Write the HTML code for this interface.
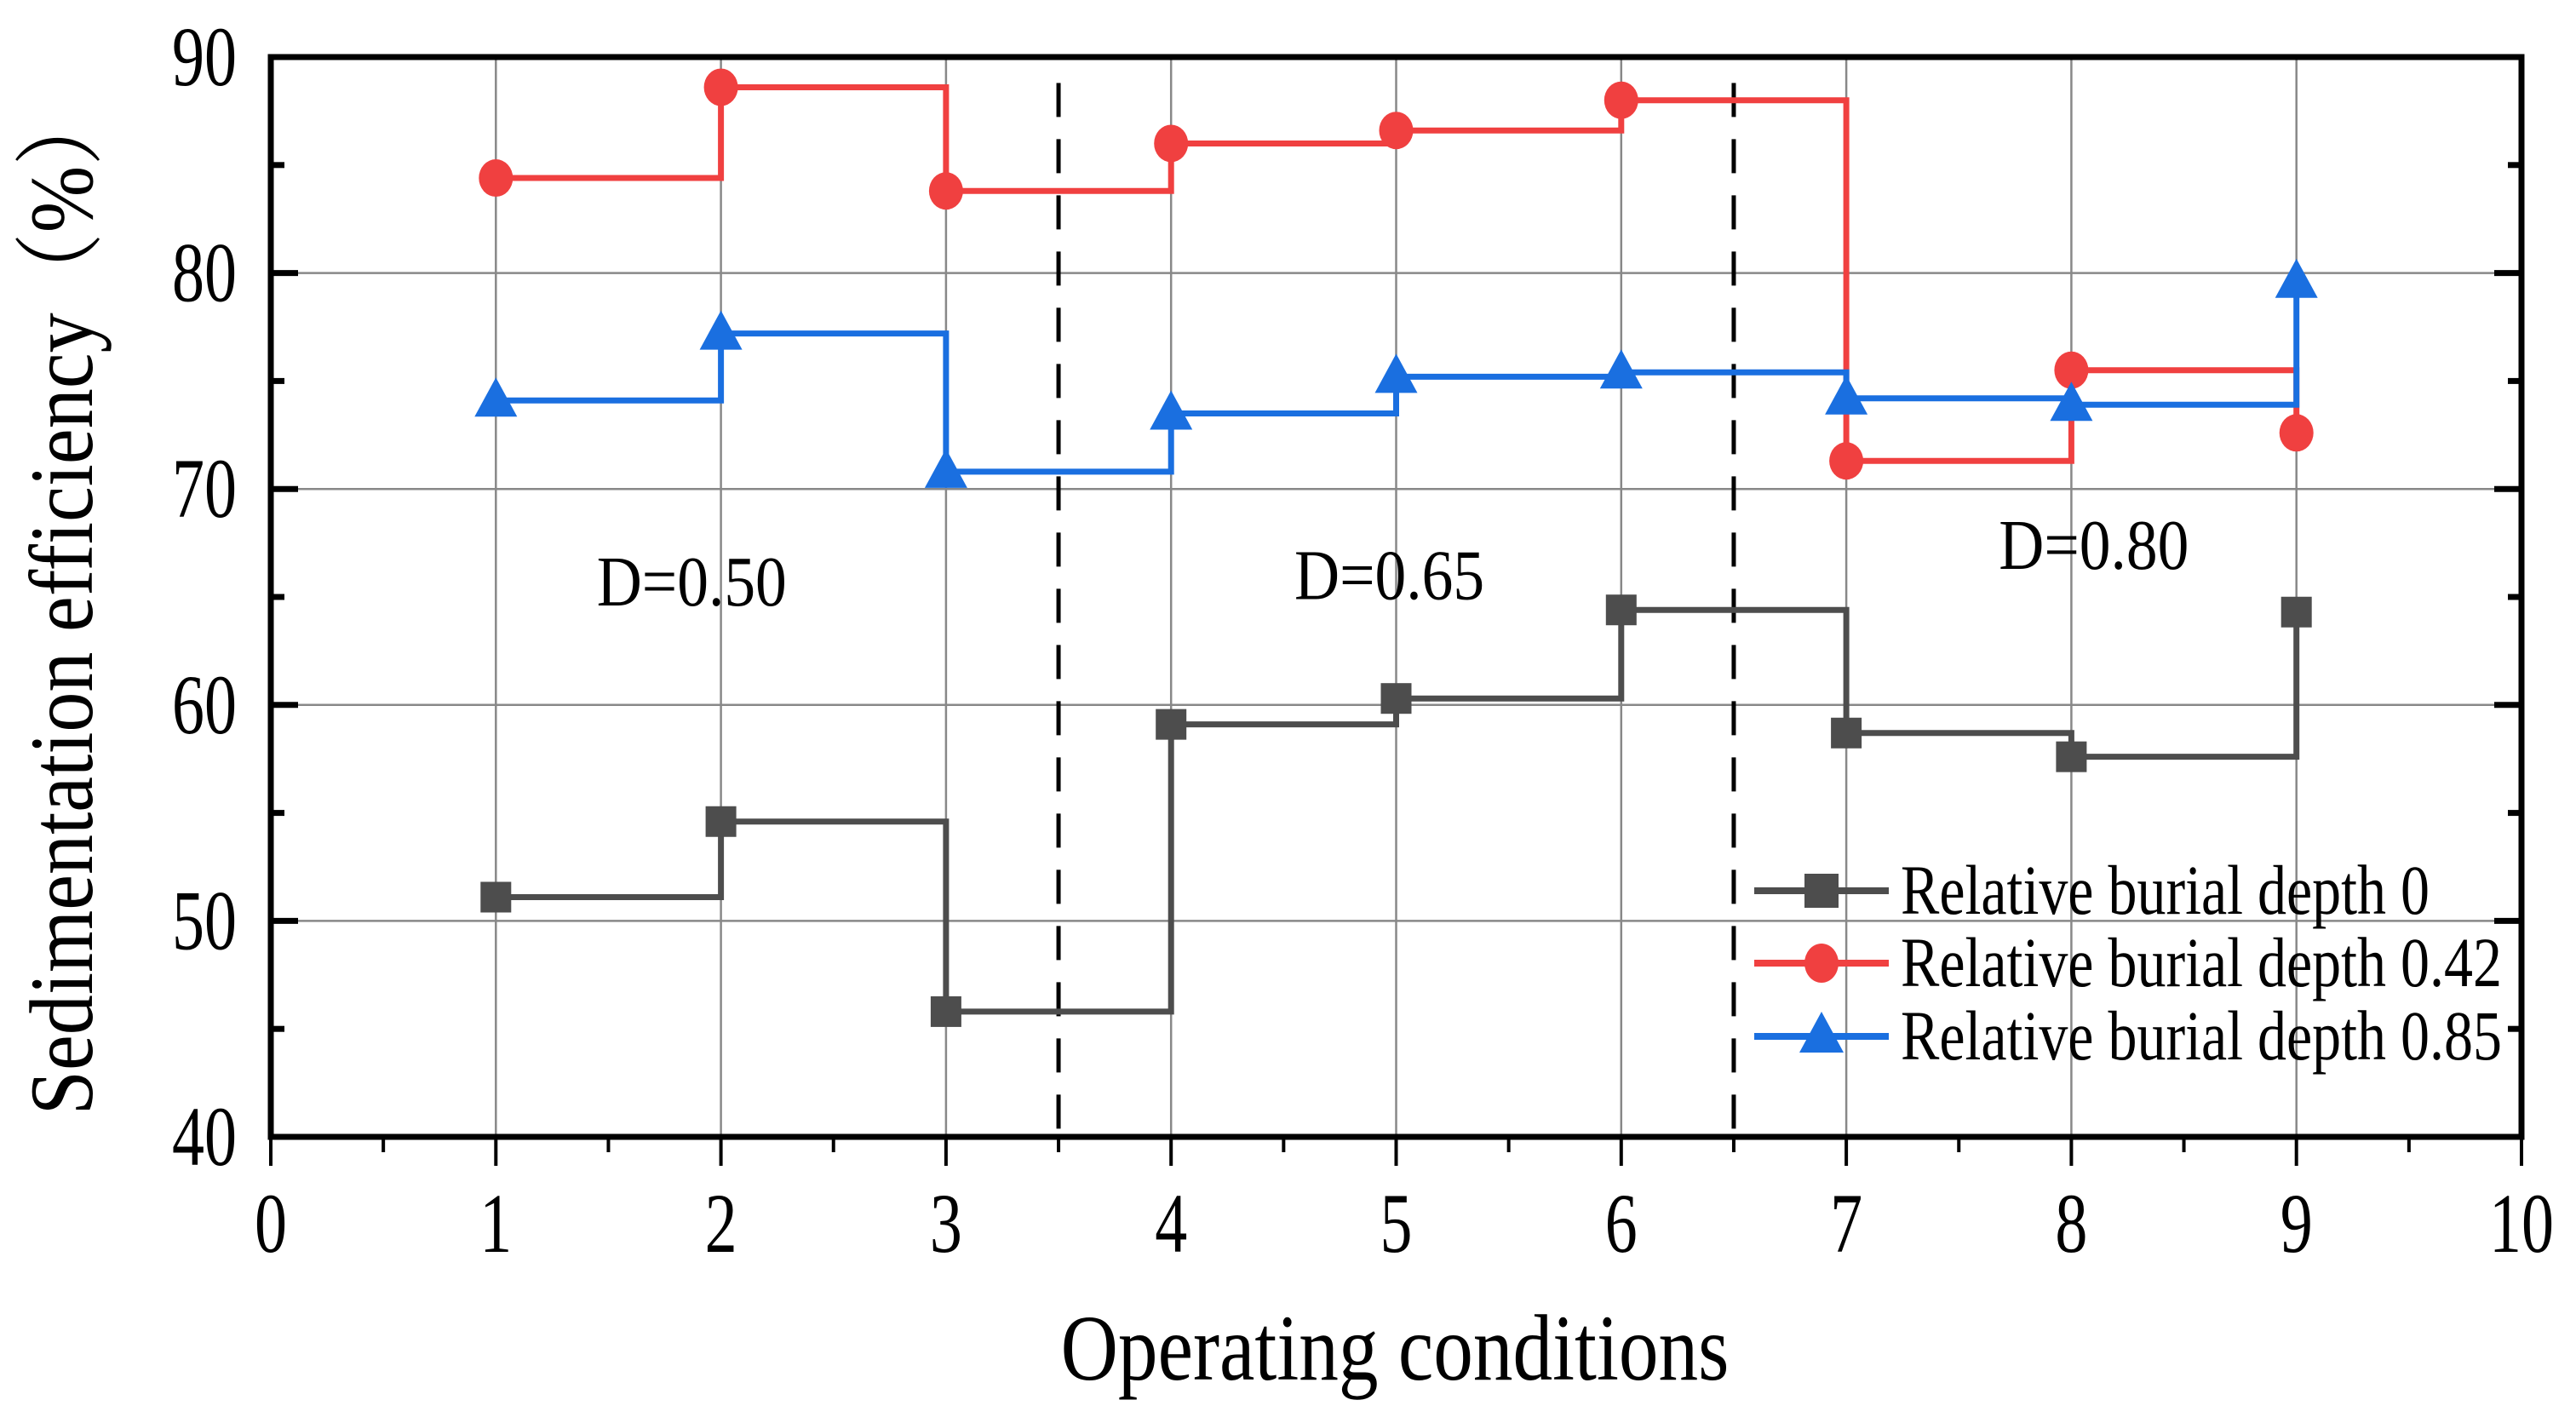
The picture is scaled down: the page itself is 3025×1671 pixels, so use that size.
<!DOCTYPE html>
<html><head><meta charset="utf-8"><style>
html,body{margin:0;padding:0;background:#fff;}
svg{display:block;font-family:"Liberation Serif",serif;}
</style></head><body>
<svg id="chart" width="3025" height="1671" viewBox="0 0 3025 1671" xmlns="http://www.w3.org/2000/svg"></svg>
<script>
const categories = [1,2,3,4,5,6,7,8,9];
const depth0 = [51.1,54.6,45.8,59.1,60.3,64.4,58.7,57.6,64.3];
const depth042 = [84.4,88.6,83.8,86.0,86.6,88.0,71.3,75.5,72.6];
const depth085 = [74.1,77.2,70.8,73.5,75.2,75.4,74.2,73.9,79.6];
const xTicks = [0,1,2,3,4,5,6,7,8,9,10];
const yTicks = [40,50,60,70,80,90];
const dividers = [3.5,6.5];
const regionLabels = ["D=0.50","D=0.65","D=0.80"];
const regionX = [1.87,4.97,8.1];
const regionY = [64.6,64.9,66.3];
const seriesNames = ["Relative burial depth 0","Relative burial depth 0.42","Relative burial depth 0.85"];

const L=318,R=2961,T=67,B=1335;
const sx=v=>L+(v-0)/10*(R-L);
const sy=v=>B-(v-40)/50*(B-T);
const svg=document.getElementById('chart');
const NS='http://www.w3.org/2000/svg';
function mk(tag,attrs,parent){const e=document.createElementNS(NS,tag);for(const k in attrs)e.setAttribute(k,attrs[k]);(parent||svg).appendChild(e);return e;}
function txt(x,y,size,anchor,a,b,content,parent,rot){
  const tr=`translate(${x},${y})`+(rot?` rotate(${rot})`:'')+` scale(${a},${b})`;
  const t=mk('text',{x:0,y:0,'font-size':size,'text-anchor':anchor,transform:tr},parent);
  t.textContent=content;
  return t;
}

for(const t of xTicks){ if(t===0||t===10) continue;
  const g=mk('line',{x1:sx(t),x2:sx(t),y1:T,y2:B,stroke:'#888','stroke-width':2.5});
  
  
}
for(const t of yTicks){ if(t===40||t===90) continue;
  const g=mk('line',{x1:L,x2:R,y1:sy(t),y2:sy(t),stroke:'#888','stroke-width':2.5});
  
  
}
for(const d of dividers){
  const l=mk('line',{x1:sx(d),x2:sx(d),y1:sy(88.8),y2:B,stroke:'#000','stroke-width':5,'stroke-dasharray':'40,26'});
  
  
}
const series=[{d:depth0,c:'#4d4d4d',m:'square'},{d:depth042,c:'#f04040',m:'circle'},{d:depth085,c:'#1a6fe0',m:'triangle'}];
function marker(type,x,y,c,name){
  let e;
  if(type==='square') e=mk('rect',{x:x-18,y:y-18,width:36,height:36,fill:c});
  else if(type==='circle') e=mk('ellipse',{cx:x,cy:y,rx:20,ry:22,fill:c});
  else e=mk('polygon',{points:`${x},${y-27} ${x-25},${y+19} ${x+25},${y+19}`,fill:c});
  
  
}
series.forEach((s,si)=>{
  let p=`M${sx(categories[0])},${sy(s.d[0])}`;
  for(let i=1;i<categories.length;i++){p+=` H${sx(categories[i])} V${sy(s.d[i])}`;}
  const path=mk('path',{d:p,fill:'none',stroke:s.c,'stroke-width':7});
  
  
  categories.forEach((c,i)=>marker(s.m,sx(c),sy(s.d[i]),s.c,'data-point'));
});
const fr=mk('rect',{x:L,y:T,width:R-L,height:B-T,fill:'none',stroke:'#000','stroke-width':7});


for(let v=0;v<=10;v+=0.5){
  const major=Number.isInteger(v);
  const t=mk('line',{x1:sx(v),x2:sx(v),y1:B,y2:B+(major?34:18),stroke:'#000','stroke-width':4});
  
  
}
xTicks.forEach(v=>{
  const t=txt(sx(v),1470,80,'middle',0.95,1.25,v);
  
  
});
for(let v=40;v<=90;v+=5){
  const major=v%10===0;
  const len=major?32:16;
  for(const [x0,dir] of [[L,1],[R,-1]]){
    const t=mk('line',{x1:x0,x2:x0+dir*len,y1:sy(v),y2:sy(v),stroke:'#000','stroke-width':7});
    
    
  }
}
yTicks.forEach(v=>{
  const t=txt(278,sy(v)+33,80,'end',0.95,1.25,v);
  
  
});
regionLabels.forEach((s,i)=>{
  const t=txt(sx(regionX[i]),sy(regionY[i]),70,'middle',1.05,1.2,s);
  
  
});
const xt=txt(1638,1620,88,'middle',1.06,1.25,'Operating conditions');


const yt=txt(108,705,88,'middle',1.07,1.2,'Sedimentation efficiency（%）',null,-90);
yt.setAttribute('font-family','"Liberation Serif","Noto Serif CJK SC",serif');


const legY=[1046,1131,1217];
series.forEach((s,i)=>{
  const g=mk('g',{});
  
  
  mk('line',{x1:2060,x2:2218,y1:legY[i],y2:legY[i],stroke:s.c,'stroke-width':8},g);
  const x=2139,y=legY[i];
  if(s.m==='square') mk('rect',{x:x-20,y:y-20,width:40,height:40,fill:s.c},g);
  else if(s.m==='circle') mk('ellipse',{cx:x,cy:y,rx:20,ry:23,fill:s.c},g);
  else mk('polygon',{points:`${x},${y-29} ${x-26},${y+19} ${x+26},${y+19}`,fill:s.c},g);
  txt(2232,legY[i]+27,66,'start',1.03,1.25,seriesNames[i],g);
});
</script>
</body></html>
